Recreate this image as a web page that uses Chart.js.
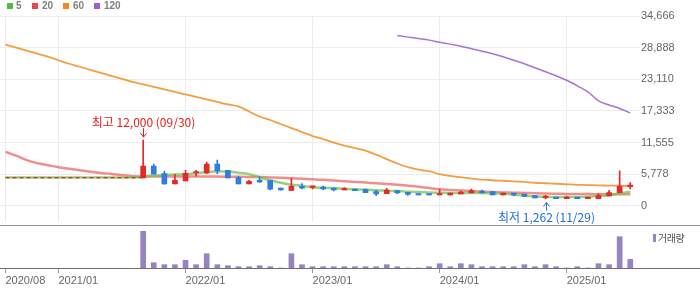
<!DOCTYPE html>
<html>
<head>
<meta charset="utf-8">
<script src="https://cdn.jsdelivr.net/npm/chart.js@4"></script>
<style>
  body { margin: 0; background: #fff; }
  #wrap { position: relative; width: 700px; height: 289px; overflow: hidden; font-family: "Liberation Sans", Arial, sans-serif; }
  #priceChart { position: absolute; left: 0; top: 0; }
  #volChart { position: absolute; left: 0; top: 225px; z-index: 2; }
  .sq { position: absolute; top: 3px; width: 6px; height: 6px; }
  .lg { position: absolute; top: 0px; font-size: 10px; font-weight: bold; color: #808080; line-height: 12px; }
  #volLegend { position: absolute; z-index: 3; left: 658px; top: 232px; font-family: "Noto Sans CJK KR", sans-serif; font-size: 10px; color: #555; letter-spacing: -0.5px; line-height: 12px; }
  #volSq { position: absolute; z-index: 3; left: 653px; top: 234px; width: 3px; height: 8px; background: #9783c2; }
</style>
</head>
<body>
<div id="wrap">
  <canvas id="priceChart" width="700" height="230"></canvas>
  <canvas id="volChart" width="700" height="64"></canvas>
  <!-- legend for the moving averages -->
  <div class="sq" style="left:7px;background:#56b947"></div><div class="lg" style="left:16px">5</div>
  <div class="sq" style="left:32px;background:#ee4646"></div><div class="lg" style="left:42px">20</div>
  <div class="sq" style="left:63px;background:#f4871e"></div><div class="lg" style="left:73px">60</div>
  <div class="sq" style="left:94px;background:#9c5fd1"></div><div class="lg" style="left:104px">120</div>
  <div id="volSq"></div><div id="volLegend">거래량</div>
</div>
<script>
// month index 0 = 2020/08, one step per month
const xTickIdx = [0, 5, 17, 29, 41, 53];
const xTickLabels = ['2020/08', '2021/01', '2022/01', '2023/01', '2024/01', '2025/01'];
const yTicks = [0, 5778, 11555, 17333, 23110, 28888, 34666];

// monthly candles from 2021/09 (index 13) to 2025/07 (index 59)
const firstCandle = 13;
const opens  = [5100,7250,5900,4000,4550,6000,6020,7610,6510,5170,4000,4730,4680,3270,2840,3580,3380,3450,3270,2900,3080,2970,2600,2240,2790,2480,2160,2160,1980,1980,2160,2350,2710,2600,1980,2350,2160,1870,1500,1560,1320,1560,1320,1320,1800,2420,3500];
const highs  = [12000,7610,6330,5780,6510,6510,7980,8350,6510,5410,4680,5360,4680,3270,5040,4070,3630,3630,3270,3340,3080,3080,2840,3210,2790,2480,2200,2160,3030,2350,2710,3080,2900,2600,2350,2350,2160,1870,1930,1560,1740,1560,1610,2240,2840,6380,4250];
const lows   = [5100,5780,3950,4000,4550,5410,5900,5900,5100,4000,4000,4250,2900,2850,2840,3080,3080,2970,2710,2900,2790,2420,1870,2240,2240,1930,1980,1980,1980,1980,2160,2350,2350,1980,1980,1800,1740,1430,1262,1320,1320,1320,1320,1320,1800,2420,3080];
const closes = [7250,5780,4000,4680,5960,6030,7610,6380,5100,4000,4490,4370,3030,2900,3580,3210,3400,3080,2900,3150,2790,2420,2160,2900,2350,2110,1980,1980,2240,2350,2530,2790,2350,1980,2350,1980,1740,1430,1560,1320,1610,1320,1610,1930,2420,3580,3540];
const volumes = [367,53,33,33,77,33,143,33,23,13,13,23,13,0,143,33,13,13,13,13,13,13,13,33,13,0,0,13,43,13,43,33,13,13,13,13,33,13,33,13,0,13,0,43,33,313,87];

// price before the first candle (dashed), index 0..13
const flatPrice = [5170,5170,5170,5170,5170,5170,5170,5170,5170,5170,5170,5170,5170,5170];

// moving averages, index 0..59
const ma5  = [5170,5170,5170,5170,5170,5170,5170,5170,5170,5170,5170,5170,5170,5355,5500,5630,5720,5780,5960,6200,6270,6270,6050,5780,5230,4680,4220,3850,3670,3390,3300,3210,3120,3030,2970,2840,2750,2710,2600,2510,2440,2400,2350,2350,2380,2350,2290,2240,2020,1870,1710,1610,1600,1600,1610,1650,1780,1960,2240,2600];
const ma20 = [9870,9170,8350,7800,7430,7060,6790,6510,6240,6020,5830,5590,5410,5370,5370,5370,5360,5360,5360,5360,5340,5320,5300,5280,5260,5190,5120,5030,4930,4860,4750,4640,4510,4380,4250,4130,4000,3870,3690,3490,3250,3030,2920,2810,2700,2590,2510,2460,2400,2370,2310,2260,2220,2180,2160,2150,2130,2110,2110,2110];
const ma60 = [29440,28890,28340,27790,27240,26590,25950,25400,24850,24300,23750,23200,22650,22190,21730,21270,20820,20360,19900,19440,18980,18520,18160,17240,16320,15680,14950,14210,13480,12750,12200,11550,11000,10550,10090,9350,8530,7740,7060,6600,6330,5780,5470,5230,4990,4810,4680,4590,4490,4370,4220,4130,4040,3940,3850,3800,3740,3710,3670,3630];
// 120 line starts at index 37
const ma120Start = 37;
const ma120 = [31090,30810,30540,30260,29890,29530,29160,28700,28240,27790,27240,26590,25950,25220,24480,23750,22930,21920,20820,19170,18430,17790,16970];

const highDate = '09/30';
const lowDate = '11/29';

const xMin = -0.52, xMax = 59.92;
const upColor = '#e5292b', downColor = '#2f7de1';

function pts(arr, start) {
  return arr.map((v, k) => ({ x: start + k, y: v }));
}
const candleColors = opens.map((o, k) => closes[k] >= o ? upColor : downColor);

function fixTicks(list) {
  return s => { s.ticks = list.map(v => ({ value: v })); };
}

function maLine(data, color, width, order) {
  return { type: 'line', data: data, borderColor: color, borderWidth: width, pointRadius: 0,
           cubicInterpolationMode: 'monotone', order: order };
}

// draws the highest / lowest markers
const markPlugin = {
  id: 'marks',
  afterDraw(chart) {
    const ctx = chart.ctx, xs = chart.scales.x, ys = chart.scales.y;
    const hi = highs.indexOf(Math.max(...highs));
    const lo = lows.indexOf(Math.min(...lows));
    ctx.save();
    ctx.lineWidth = 1;
    ctx.font = '12px "Noto Sans CJK KR", sans-serif';
    ctx.textAlign = 'center';
    ctx.textBaseline = 'middle';

    // highest
    let px = Math.round(xs.getPixelForValue(firstCandle + hi)) + 0.5;
    let tip = ys.getPixelForValue(highs[hi]) - 3;
    ctx.strokeStyle = ctx.fillStyle = '#e0201c';
    ctx.beginPath();
    ctx.moveTo(px, tip - 9); ctx.lineTo(px, tip);
    ctx.moveTo(px - 3, tip - 4); ctx.lineTo(px, tip); ctx.lineTo(px + 3, tip - 4);
    ctx.stroke();
    ctx.fillText('최고 ' + highs[hi].toLocaleString('en-US') + ' (' + highDate + ')', px, tip - 14.5);

    // lowest
    px = Math.round(xs.getPixelForValue(firstCandle + lo)) + 0.5;
    tip = ys.getPixelForValue(lows[lo]) + 3.5;
    ctx.strokeStyle = ctx.fillStyle = '#1f6fd6';
    ctx.beginPath();
    ctx.moveTo(px, tip + 8); ctx.lineTo(px, tip);
    ctx.moveTo(px - 3, tip + 4); ctx.lineTo(px, tip); ctx.lineTo(px + 3, tip + 4);
    ctx.stroke();
    ctx.fillText('최저 ' + lows[lo].toLocaleString('en-US') + ' (' + lowDate + ')', px, tip + 15);
    ctx.restore();
  }
};

new Chart(document.getElementById('priceChart'), {
  type: 'bar',
  data: {
    datasets: [
      { data: opens.map((o, k) => ({ x: firstCandle + k, y: [o, closes[k]] })), backgroundColor: candleColors,
        barThickness: 5, grouped: false, minBarLength: 1.5, order: 0 },
      { data: lows.map((l, k) => ({ x: firstCandle + k, y: [l, highs[k]] })), backgroundColor: candleColors,
        barThickness: 1, grouped: false, order: 1 },
      Object.assign(maLine(pts(flatPrice, 0), '#e5292b', 1.2, 2), { borderDash: [4, 3] }),
      maLine(pts(ma5, 0), 'rgba(110,196,80,0.75)', 2.5, 3),
      maLine(pts(ma20, 0), 'rgba(236,80,80,0.65)', 2.5, 4),
      maLine(pts(ma60, 0), 'rgba(245,140,35,0.85)', 1.8, 5),
      maLine(pts(ma120, ma120Start), 'rgba(158,100,212,0.9)', 1.5, 6)
    ]
  },
  options: {
    responsive: false,
    animation: false,
    layout: { padding: { top: 16, bottom: 3, left: 0, right: 0 } },
    plugins: { legend: { display: false }, tooltip: { enabled: false } },
    scales: {
      x: { type: 'linear', min: xMin, max: xMax, offset: false,
           afterBuildTicks: fixTicks(xTickIdx),
           ticks: { display: false },
           grid: { color: '#ececec', drawTicks: false, offset: false },
           border: { display: false },
           afterFit: s => { s.height = 0; } },
      y: { position: 'right', min: -3018, max: 34666, beginAtZero: false,
           afterBuildTicks: fixTicks(yTicks),
           ticks: { color: '#666', padding: 1, font: { size: 11, family: 'Liberation Sans' },
                    callback: v => v.toLocaleString('en-US') },
           grid: { color: '#ececec', drawTicks: false },
           border: { display: false },
           afterFit: s => { s.width = 60; } }
    }
  },
  plugins: [markPlugin]
});

// full width separator and base lines of the volume panel
const panelLines = {
  id: 'panelLines',
  afterDraw(chart) {
    const ctx = chart.ctx, w = chart.width, b = chart.chartArea.bottom;
    ctx.save();
    ctx.lineWidth = 1;
    ctx.strokeStyle = '#8d9199';
    ctx.beginPath(); ctx.moveTo(0, 0.5); ctx.lineTo(w, 0.5); ctx.stroke();
    ctx.strokeStyle = '#707070';
    ctx.beginPath(); ctx.moveTo(0, b + 0.5); ctx.lineTo(w, b + 0.5); ctx.stroke();
    ctx.restore();
  }
};

new Chart(document.getElementById('volChart'), {
  type: 'bar',
  data: {
    datasets: [{
      data: volumes.map((v, k) => ({ x: firstCandle + k, y: v })),
      backgroundColor: '#9783c2', barThickness: 5, grouped: false
    }]
  },
  options: {
    responsive: false,
    animation: false,
    layout: { padding: { top: 1, bottom: 0, left: 0, right: 0 } },
    plugins: { legend: { display: false }, tooltip: { enabled: false } },
    scales: {
      x: { type: 'linear', min: xMin, max: xMax, offset: false,
           afterBuildTicks: fixTicks(xTickIdx),
           ticks: { align: 'start', autoSkip: false, maxRotation: 0, padding: 1, color: '#666',
                    font: { size: 11, family: 'Liberation Sans' },
                    callback: (v, i) => xTickLabels[i] },
           grid: { drawOnChartArea: false, drawTicks: true, tickLength: 5, color: '#999', offset: false },
           border: { display: false },
           afterFit: s => { s.height = 21; } },
      y: { position: 'right', min: 0, max: 420,
           ticks: { display: false },
           grid: { display: false },
           border: { display: false },
           afterFit: s => { s.width = 60; } }
    }
  },
  plugins: [panelLines]
});
</script>
</body>
</html>
